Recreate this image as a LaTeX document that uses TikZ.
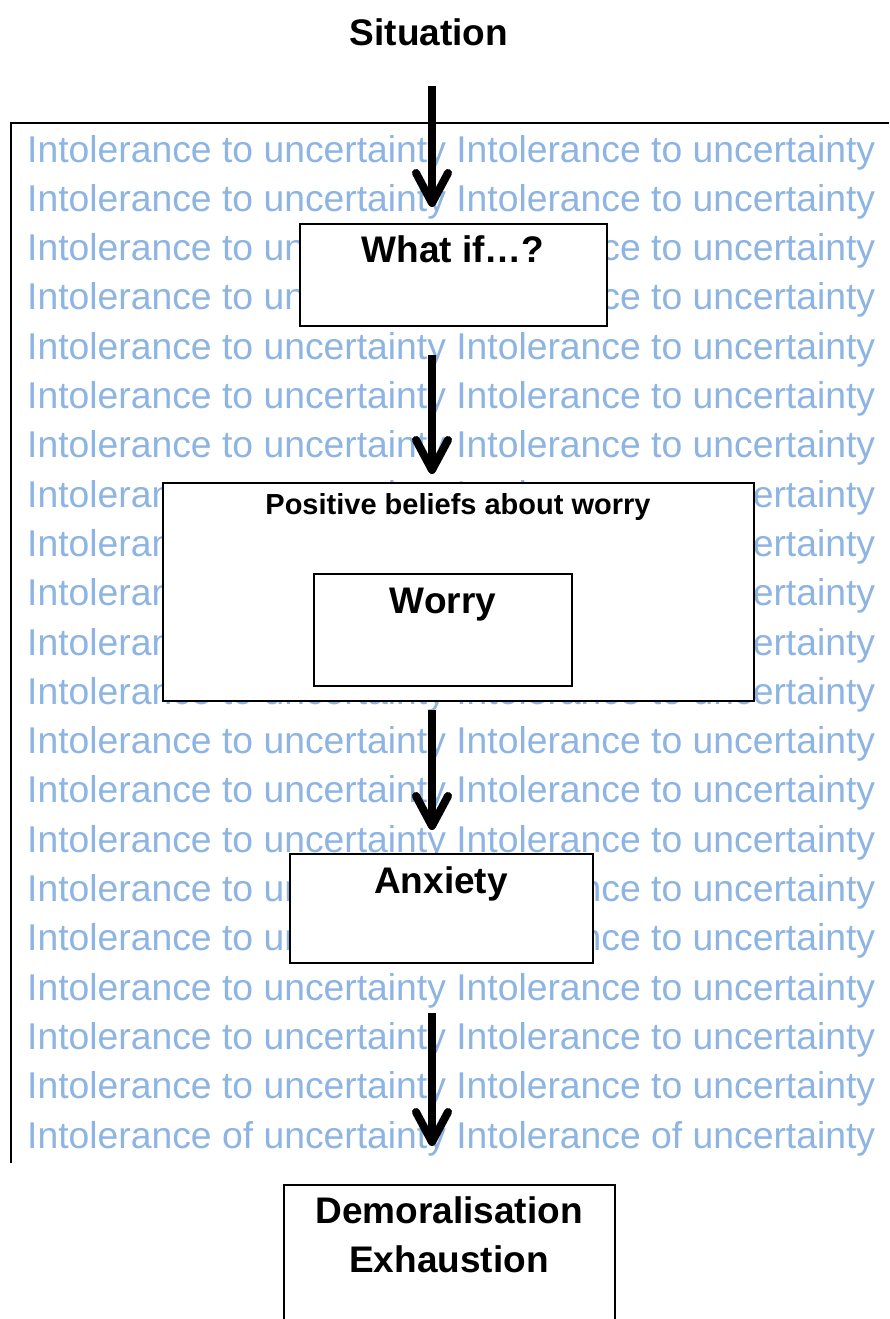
\documentclass[tikz,border=0pt]{standalone}
\usepackage{fontspec}
\setmainfont{Liberation Sans}
\definecolor{iublue}{RGB}{141,180,226}
\begin{document}
\begin{tikzpicture}[x=1pt,y=-1pt,
  bg/.style={text=iublue,font=\fontsize{37.3}{37.3}\selectfont,anchor=base west,inner sep=0pt},
  stage/.style={draw=black,line width=2pt,fill=white,inner sep=0pt},
  heading/.style={font=\fontsize{37}{49}\selectfont\bfseries,anchor=base,inner sep=0pt,align=center},
  small heading/.style={font=\fontsize{29}{29}\selectfont\bfseries,anchor=base,inner sep=0pt},
  shaft/.style={line width=8pt,line cap=butt},
  barb/.style={line width=8pt,line cap=round,line join=round}]
\useasboundingbox (0,0) rectangle (889,1319);

% background text rows
\foreach \k in {0,...,19}
  \node[bg] at (27,{162+49.3*\k}) {Intolerance to uncertainty Intolerance to uncertainty};
\node[bg] (lastrow) at (27,{162+49.3*20}) {Intolerance of uncertainty Intolerance of uncertainty};

% frame around the field
\draw[line width=2.5pt] (11,1163) -- (11,123) -- (889,123);

% title
\node[heading] (situation) at (429,46) {Situation};

% boxes
\node[stage,minimum width=307pt,minimum height=102pt] (whatif) at (453.5,275) {};
\node[heading] (whatiftext) at (453,262) {What if…?};

\node[stage,minimum width=591pt,minimum height=218pt] (beliefs) at (458.5,592) {};
\node[small heading] (beliefstext) at (458,514) {Positive beliefs about worry};

\node[stage,minimum width=258pt,minimum height=112pt] (worry) at (443,630) {};
\node[heading] (worrytext) at (443,613) {Worry};

\node[stage,minimum width=303pt,minimum height=109pt] (anxiety) at (441.5,908.5) {};
\node[heading] (anxietytext) at (441,893) {Anxiety};

\node[stage,minimum width=331pt,minimum height=160pt] (demor) at (449.5,1265) {};
\node[heading] (demortext) at (449,1272) {Demoralisation\\Exhaustion};

% arrows
\coordinate (a1s) at (432,86);   \coordinate (a1e) at (432,203);
\coordinate (a2s) at (432,355);  \coordinate (a2e) at (432,470);
\coordinate (a3s) at (432,710);  \coordinate (a3e) at (432,826);
\coordinate (a4s) at (432,1013); \coordinate (a4e) at (432,1142);
\foreach \s/\e in {a1s/a1e,a2s/a2e,a3s/a3e,a4s/a4e}{
  \draw[shaft] (\s) -- ([yshift=4pt]\e);
  \draw[barb] ([xshift=-16pt,yshift=30pt]\e) -- (\e) -- ([xshift=16pt,yshift=30pt]\e);
}
\end{tikzpicture}
\end{document}
